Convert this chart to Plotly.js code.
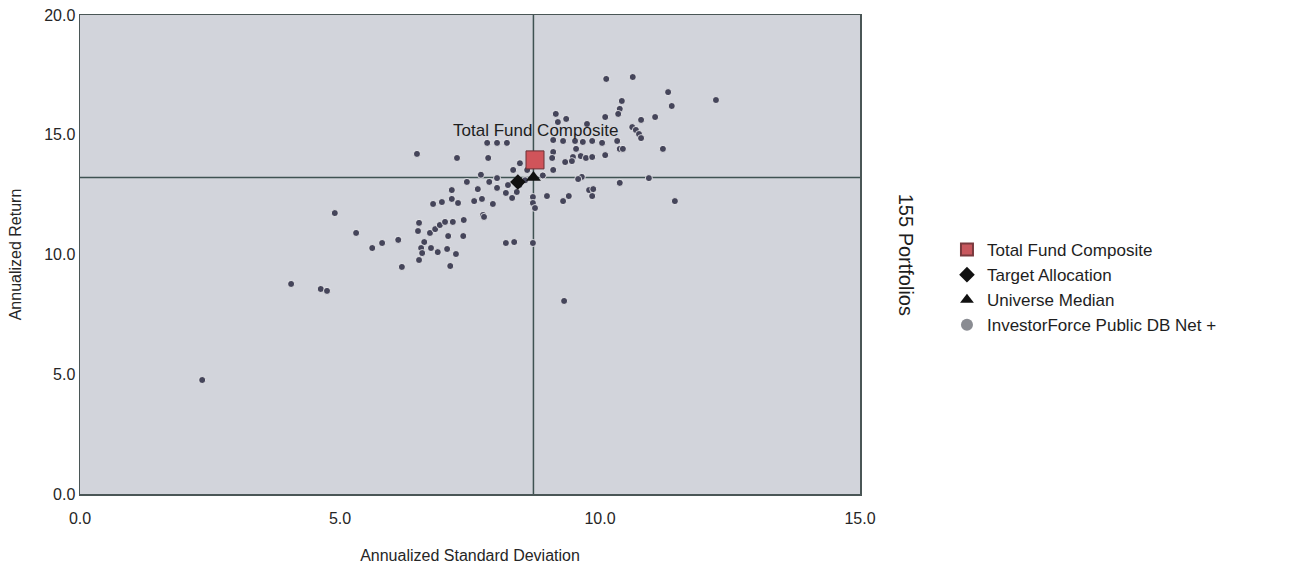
<!DOCTYPE html>
<html>
<head>
<meta charset="utf-8">
<script src="https://cdn.plot.ly/plotly-3.0.1.min.js"></script>
<style>
html,body{margin:0;padding:0;background:#fff;}
#chart{width:1312px;height:571px;}
</style>
</head>
<body>
<div id="chart"></div>
<script>
// Universe portfolios: annualized standard deviation (x) and annualized return (y)
var universeSD = [
  2.35, 4.06, 4.63, 4.75, 4.90, 5.31, 5.62, 5.81, 6.12, 6.19,
  6.52, 6.50, 6.62, 6.56, 6.58, 6.52, 6.75, 6.88, 7.06, 7.23,
  7.12, 7.08, 7.37, 7.17, 7.38, 6.73, 6.83, 6.92, 7.02, 6.79,
  6.96, 7.15, 7.15, 7.27, 7.58, 7.73, 7.65, 7.94, 7.75, 7.77,
  8.02, 8.19, 8.23, 8.31, 8.40, 8.19, 8.35, 8.71, 8.71, 8.75,
  8.71, 7.71, 7.44, 7.87, 8.02, 6.48, 7.25, 7.85, 7.83, 8.02,
  8.21, 8.46, 8.33, 8.98, 9.29, 9.40, 9.79, 9.87, 9.85, 10.38,
  9.65, 9.58, 10.94, 11.44, 9.31, 10.12, 10.63, 11.31, 11.38, 12.23,
  10.42, 10.38, 10.35, 10.10, 10.79, 11.06, 9.15, 9.19, 9.35, 9.75,
  10.62, 10.69, 10.75, 10.79, 11.21, 10.38, 10.44, 9.10, 9.08, 9.54,
  9.48, 9.46, 9.33, 9.63, 9.73, 9.85, 10.10, 9.10, 9.10, 9.29,
  9.52, 9.67, 9.85, 10.04, 10.33, 8.56, 8.90, 8.45, 8.60
];
var universeRet = [
  4.76, 8.77, 8.56, 8.48, 11.73, 10.90, 10.27, 10.48, 10.61, 9.48,
  11.32, 10.98, 10.52, 10.27, 10.06, 9.77, 10.27, 10.10, 10.23, 10.02,
  9.52, 10.77, 10.77, 11.36, 11.44, 10.90, 11.06, 11.23, 11.36, 12.11,
  12.19, 12.69, 12.32, 12.15, 12.23, 12.32, 12.73, 12.11, 11.65, 11.57,
  12.78, 12.57, 12.90, 12.36, 12.61, 10.48, 10.52, 12.40, 12.15, 11.94,
  10.48, 13.33, 13.03, 13.03, 13.19, 14.20, 14.03, 14.03, 14.66, 14.66,
  14.66, 13.81, 13.53, 12.44, 12.23, 12.44, 12.69, 12.73, 12.44, 12.99,
  13.24, 13.15, 13.19, 12.23, 8.06, 17.33, 17.41, 16.78, 16.20, 16.45,
  16.41, 16.08, 15.87, 15.74, 15.62, 15.74, 15.87, 15.53, 15.66, 15.45,
  15.32, 15.20, 15.03, 14.86, 14.41, 14.41, 14.41, 14.28, 14.03, 14.41,
  14.07, 13.90, 13.86, 14.11, 14.03, 14.07, 14.15, 13.53, 14.78, 14.74,
  14.74, 14.70, 14.74, 14.66, 14.74, 13.10, 13.30, 12.90, 13.53
];
var compositeSD = [8.75], compositeRet = [13.95];
var targetSD = [8.42], targetRet = [13.03];
var medianSD = [8.72], medianRet = [13.22];
var seriesNames = ["Total Fund Composite", "Target Allocation", "Universe Median", "InvestorForce Public DB Net +"];
var portfolioCount = "155 Portfolios";
var xTicks = [0, 5, 10, 15], yTicks = [0, 5, 10, 15, 20];

var sans = '"Liberation Sans", Arial, sans-serif';
var txt = '#262626';

var traces = [
  {type:'scatter', mode:'markers', x:universeSD, y:universeRet, showlegend:false, hoverinfo:'skip',
   marker:{symbol:'circle', size:7, color:'#45455a', line:{color:'rgba(255,255,255,0.75)', width:1}}},
  {type:'scatter', mode:'markers', x:targetSD, y:targetRet, showlegend:false,
   marker:{symbol:'diamond', size:12, color:'#111'}},
  {type:'scatter', mode:'markers', x:medianSD, y:medianRet, showlegend:false,
   marker:{symbol:'triangle-up', size:13, color:'#111'}},
  {type:'scatter', mode:'markers', x:compositeSD, y:compositeRet, showlegend:false,
   marker:{symbol:'square', size:18, color:'#d0545a', line:{color:'#6a3035', width:1}}},
  // legend entries
  {type:'scatter', mode:'markers', x:[null], y:[null], name:seriesNames[0],
   marker:{symbol:'square', size:8, color:'#c8585e', line:{color:'#7a3a3e', width:1}}},
  {type:'scatter', mode:'markers', x:[null], y:[null], name:seriesNames[1],
   marker:{symbol:'diamond', size:8, color:'#111'}},
  {type:'scatter', mode:'markers', x:[null], y:[null], name:seriesNames[2],
   marker:{symbol:'triangle-up', size:8, color:'#111'}},
  {type:'scatter', mode:'markers', x:[null], y:[null], name:seriesNames[3],
   marker:{symbol:'circle', size:8, color:'#8a8c92'}}
];

var layout = {
  width:1312, height:571,
  margin:{l:80, r:452, t:15, b:77, pad:0},
  paper_bgcolor:'#ffffff', plot_bgcolor:'#d2d4db',
  showlegend:true,
  legend:{x:1.1115, xanchor:'left', y:0.547, yanchor:'top', bgcolor:'rgba(0,0,0,0)',
          font:{family:sans, size:17, color:'#1e1e1e'}, itemsizing:'constant', tracegroupgap:0},
  xaxis:{range:[0,15], tickvals:xTicks, ticktext:xTicks.map(function(v){return v.toFixed(1);}),
         showgrid:false, zeroline:false, showline:true, linecolor:'#4a5656', linewidth:1.5, mirror:true,
         ticks:'outside', ticklen:9, tickcolor:'rgba(0,0,0,0)',
         tickfont:{family:sans, size:16, color:txt},
         title:{text:'Annualized Standard Deviation', font:{family:sans, size:16, color:txt}, standoff:24},
         fixedrange:true},
  yaxis:{range:[0,20], tickvals:yTicks, ticktext:yTicks.map(function(v){return v.toFixed(1);}),
         showgrid:false, zeroline:false, showline:true, linecolor:'#4a5656', linewidth:1.5, mirror:true,
         ticks:'', tickfont:{family:sans, size:16, color:txt},
         title:{text:'Annualized Return', font:{family:sans, size:16, color:txt}, standoff:18},
         fixedrange:true},
  shapes:[
    {type:'line', xref:'x', yref:'paper', x0:medianSD[0], x1:medianSD[0], y0:0, y1:1, line:{color:'#3f5252', width:1.5}, layer:'below'},
    {type:'line', xref:'paper', yref:'y', x0:0, x1:1, y0:medianRet[0], y1:medianRet[0], line:{color:'#3f5252', width:1.5}, layer:'below'}
  ],
  annotations:[
    {text:seriesNames[0], xref:'x', yref:'y', x:compositeSD[0], y:compositeRet[0], yshift:29,
     xanchor:'center', yanchor:'middle', showarrow:false, font:{family:sans, size:17, color:'#1e1e1e'}},
    {text:portfolioCount, xref:'paper', yref:'paper', x:1.06, y:0.5, xanchor:'center', yanchor:'middle',
     textangle:90, showarrow:false, font:{family:sans, size:20, color:'#1e1e1e'}}
  ]
};

Plotly.newPlot('chart', traces, layout, {displayModeBar:false, staticPlot:true});
</script>
</body>
</html>
